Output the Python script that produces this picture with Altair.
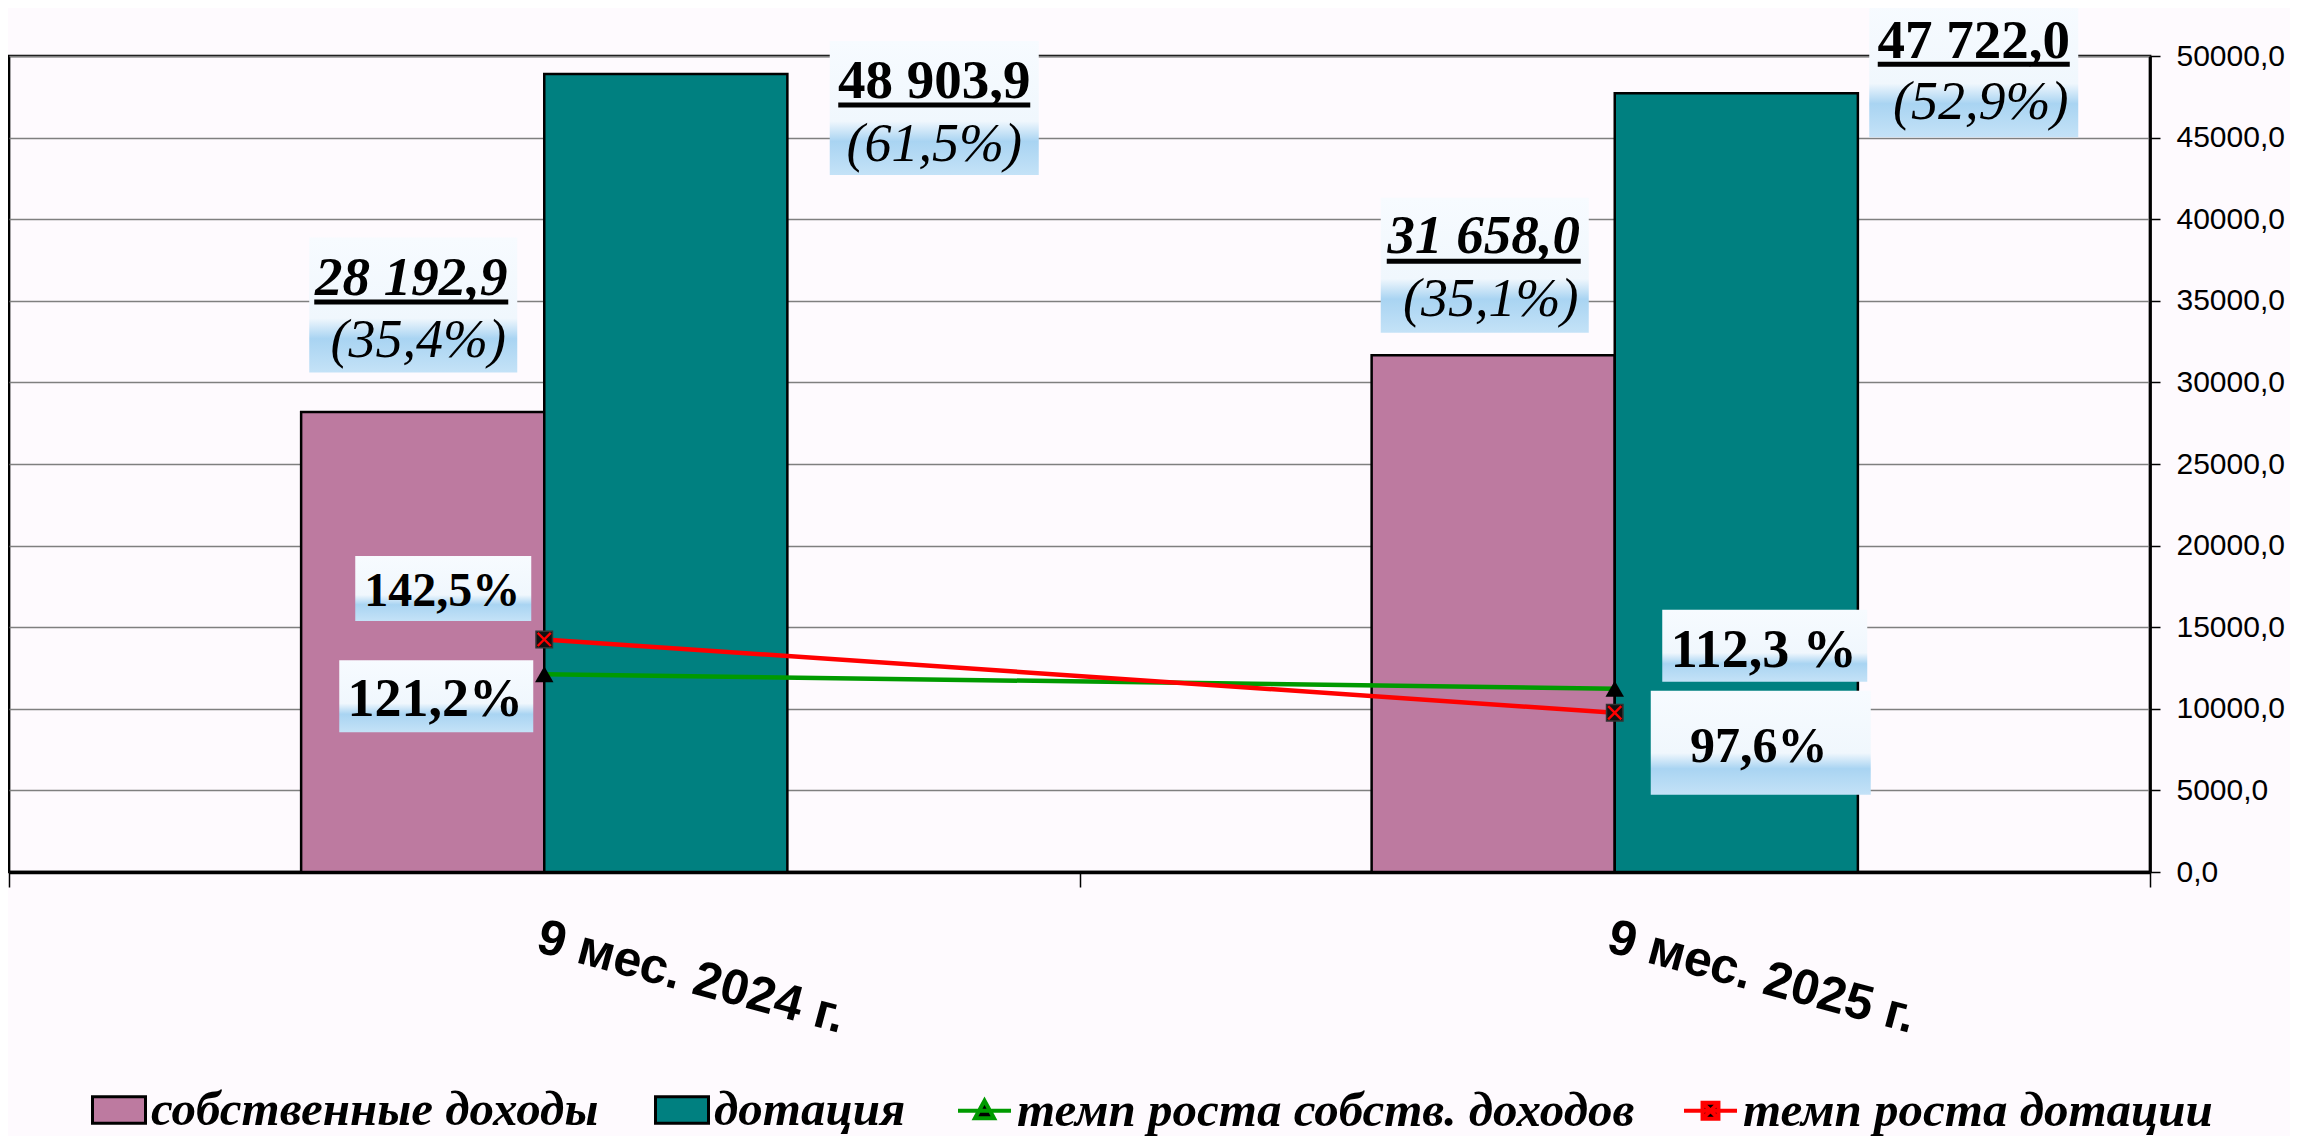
import altair as alt
import pandas as pd

# ---------------- data ----------------
categories = ["9 мес. 2024 г.", "9 мес. 2025 г."]
series_names = ["собственные доходы", "дотация",
                "темп роста собств. доходов", "темп роста дотации"]
own_income = [28192.9, 31658.0]
subsidy = [48903.9, 47722.0]
own_share = [35.4, 35.1]
subsidy_share = [61.5, 52.9]
own_growth = [121.2, 112.3]
subsidy_growth = [142.5, 97.6]
own_growth_labels = ["121,2%", "112,3 %"]
subsidy_growth_labels = ["142,5%", "97,6%"]
y_ticks = [0, 5000, 10000, 15000, 20000, 25000, 30000, 35000, 40000, 45000, 50000]

PINK = "#bd7aa0"
TEAL = "#008080"
GREEN = "#009a00"
RED = "#ff0000"
BG = "#fefafe"
SERIF = "Liberation Serif"
SANS = "Liberation Sans"

W, H = 2141, 816


def fmt_num(v):
    return f"{v:,.1f}".replace(",", " ").replace(".", ",")


def fmt_share(v):
    return "(" + f"{v:.1f}".replace(".", ",") + "%)"


bars_df = pd.DataFrame({
    "cat": categories + categories,
    "series": [series_names[0]] * 2 + [series_names[1]] * 2,
    "value": own_income + subsidy,
})
rates_df = pd.DataFrame({
    "cat": categories + categories,
    "series": [series_names[2]] * 2 + [series_names[3]] * 2,
    "rate": own_growth + subsidy_growth,
})

x_scale = alt.Scale(domain=categories, paddingInner=0, paddingOuter=0)
x_axis = alt.Axis(
    title=None, orient="bottom", domainColor="black", domainWidth=3.5,
    ticks=True, tickBand="extent", tickSize=15, tickColor="black", tickWidth=1.5,
    labelAngle=15, labelFont=SANS, labelFontWeight="bold", labelFontSize=50,
    labelColor="black", labelPadding=25, labelLimit=800, grid=False)
y_bar = alt.Scale(domain=[0, 50000], nice=False, zero=True)
y_rate = alt.Scale(domain=[0, 500], nice=False, zero=True)
# two empty slots around the pair of bars set the gap inside each category
offset_domain = ["_l"] + series_names[:2] + ["_r"]


def X():
    return alt.X("cat:N", scale=x_scale, sort=categories, axis=x_axis)


rect_path = "M-1,-0.5L1,-0.5L1,0.5L-1,0.5Z"
green_sym = "M-1,0L1,0M-0.36,0.28L0,-0.38L0.36,0.28Z"
red_sym = "M-1,0L1,0M-0.3,-0.3L0.3,-0.3L0.3,0.3L-0.3,0.3ZM-0.3,-0.3L0.3,0.3M0.3,-0.3L-0.3,0.3"

LEG_Y = 1026
legend_text = dict(labelFont=SERIF, labelFontStyle="italic", labelFontWeight="bold",
                   labelFontSize=49, labelColor="black", labelOffset=4,
                   labelLimit=1200, padding=0, title=None, orient="none",
                   direction="horizontal")

bars = alt.Chart(bars_df).mark_bar(stroke="black", strokeWidth=2.5).encode(
    x=X(),
    xOffset=alt.XOffset("series:N", scale=alt.Scale(domain=offset_domain,
                                                  paddingInner=0, paddingOuter=0.2016)),
    y=alt.Y("value:Q", scale=y_bar, axis=alt.Axis(
        title=None, orient="right", values=y_ticks,
        labelExpr="replace(format(datum.value, '.1f'), '.', ',')",
        labelFont=SANS, labelFontSize=30, labelColor="black", labelPadding=16,
        domainColor="black", domainWidth=2.7, tickColor="black", tickWidth=1.5,
        tickSize=10, grid=True, gridColor="#7f7f7f", gridWidth=1.6)),
    color=alt.Color("series:N", scale=alt.Scale(domain=series_names[:2], range=[PINK, TEAL]),
                    legend=alt.Legend(legendX=82, legendY=LEG_Y, symbolType=rect_path,
                                      symbolSize=2809, symbolStrokeColor="black",
                                      symbolStrokeWidth=3, columnPadding=50, **legend_text)),
)

line_stroke_scale = alt.Scale(domain=series_names[2:], range=[GREEN, RED])
line_legend = alt.Legend(legendX=947, legendY=LEG_Y, symbolSize=2809, symbolStrokeWidth=4,
                         symbolFillColor="black", columnPadding=41, **legend_text)

lines = alt.Chart(rates_df).mark_line(strokeWidth=4.5).encode(
    x=X(),
    y=alt.Y("rate:Q", scale=y_rate, axis=None),
    stroke=alt.Stroke("series:N", scale=line_stroke_scale, legend=line_legend),
)

# legend-only layer: no rows pass the filter, it only lends its shapes to the legend
legend_layer = alt.Chart(rates_df).transform_filter("false").mark_point(
    filled=False, fill="black", size=2809, strokeWidth=4, opacity=1).encode(
    x=X(),
    y=alt.Y("rate:Q", scale=y_rate, axis=None),
    stroke=alt.Stroke("series:N", scale=line_stroke_scale, legend=line_legend),
    shape=alt.Shape("series:N", scale=alt.Scale(domain=series_names[2:],
                                                range=[green_sym, red_sym]),
                    legend=line_legend),
)

own_df = rates_df[rates_df["series"] == series_names[2]]
sub_df = rates_df[rates_df["series"] == series_names[3]]

tri = alt.Chart(own_df).mark_point(shape="triangle-up", size=340, filled=True,
                                   color="black", opacity=1).encode(
    x=X(), y=alt.Y("rate:Q", scale=y_rate, axis=None))
sq = alt.Chart(sub_df).mark_point(shape="square", size=270, filled=True, fill="#111111",
                                  stroke="#333333", strokeWidth=1.5, opacity=1).encode(
    x=X(), y=alt.Y("rate:Q", scale=y_rate, axis=None))
sqx = alt.Chart(sub_df).mark_point(shape="M-0.8,-0.8L0.8,0.8M0.8,-0.8L-0.8,0.8", size=270,
                                   filled=False, color=RED, strokeWidth=2.4, opacity=1).encode(
    x=X(), y=alt.Y("rate:Q", scale=y_rate, axis=None))

grad = alt.LinearGradient(
    gradient="linear", x1=0, x2=0, y1=0, y2=1,
    stops=[alt.GradientStop(color="#f7fbff", offset=0),
           alt.GradientStop(color="#f0f7fd", offset=0.6),
           alt.GradientStop(color="#a9d4f2", offset=0.75),
           alt.GradientStop(color="#c4e2f7", offset=1)])


def enc(scale):
    return dict(x=X(), y=alt.Y("v:Q", scale=scale, axis=None))


def box(cat, v, scale, dx, dy, w, h):
    r = h / w
    path = f"M-1,{-r:.4f}L1,{-r:.4f}L1,{r:.4f}L-1,{r:.4f}Z"
    df = pd.DataFrame({"cat": [cat], "v": [v]})
    return alt.Chart(df).mark_point(shape=path, size=w * w, filled=True, fill=grad,
                                    strokeWidth=0, opacity=1,
                                    xOffset=dx, yOffset=dy).encode(**enc(scale))


def uline(cat, v, scale, dx, dy, w):
    df = pd.DataFrame({"cat": [cat], "v": [v]})
    return alt.Chart(df).mark_point(shape="M-1,0L1,0", size=w * w, filled=False,
                                    color="black", strokeWidth=5, opacity=1,
                                    xOffset=dx, yOffset=dy).encode(**enc(scale))


def txt(cat, v, scale, label, dx, dy, size, weight="bold", style="normal"):
    df = pd.DataFrame({"cat": [cat], "v": [v], "label": [label]})
    return alt.Chart(df).mark_text(font=SERIF, fontSize=size, fontWeight=weight,
                                   fontStyle=style, color="black", align="center",
                                   baseline="alphabetic", xOffset=dx, yOffset=dy).encode(
        text="label:N", **enc(scale))


ann = []
# own income labels (bold italic, underlined) + share
for i, (bx, by, tx, ty, uy, sx, sy) in enumerate([(-131, -107, -133, -117, -110, -126, -55),
                                                    (-130, -90, -131, -102, -94, -124, -39)]):
    c, v = categories[i], own_income[i]
    ann += [box(c, v, y_bar, bx, by, 208, 135),
            txt(c, v, y_bar, fmt_num(v), tx, ty, 55, "bold", "italic"),
            uline(c, v, y_bar, tx, uy, 194),
            txt(c, v, y_bar, fmt_share(own_share[i]), sx, sy, 54, "normal", "italic")]
# subsidy labels (bold, underlined) + share
for i, (bx, by, tx, ty, uy, sx, sy) in enumerate([(390, 34, 390, 24, 31, 390, 87),
                                                    (359, -23, 359, -35, -29, 366, 26)]):
    c, v = categories[i], subsidy[i]
    ann += [box(c, v, y_bar, bx, by, 209, 134),
            txt(c, v, y_bar, fmt_num(v), tx, ty, 55, "bold", "normal"),
            uline(c, v, y_bar, tx, uy, 192),
            txt(c, v, y_bar, fmt_share(subsidy_share[i]), sx, sy, 54, "normal", "italic")]
# growth rate labels
ann += [box(categories[0], subsidy_growth[0], y_rate, -101, -51, 176, 65),
        txt(categories[0], subsidy_growth[0], y_rate, subsidy_growth_labels[0], -102, -33, 48),
        box(categories[0], own_growth[0], y_rate, -108, 22, 194, 72),
        txt(categories[0], own_growth[0], y_rate, own_growth_labels[0], -109, 42, 54),
        box(categories[1], own_growth[1], y_rate, 150, -43, 205, 72),
        txt(categories[1], own_growth[1], y_rate, own_growth_labels[1], 149, -22, 54),
        box(categories[1], subsidy_growth[1], y_rate, 146, 30, 220, 104),
        txt(categories[1], subsidy_growth[1], y_rate, subsidy_growth_labels[1], 144, 49, 50)]

chart = alt.layer(bars, lines, legend_layer, tri, sq, sqx, *ann).resolve_scale(
    y="independent"
).properties(
    width=W, height=H,
    padding={"left": 1, "top": 48, "right": 140, "bottom": 264},
    autosize=alt.AutoSizeParams(type="none"),
).configure(background=BG).configure_view(stroke="black", strokeWidth=2.7, fill=BG)

chart.save("out.html", embed_options={"renderer": "svg", "actions": False})
